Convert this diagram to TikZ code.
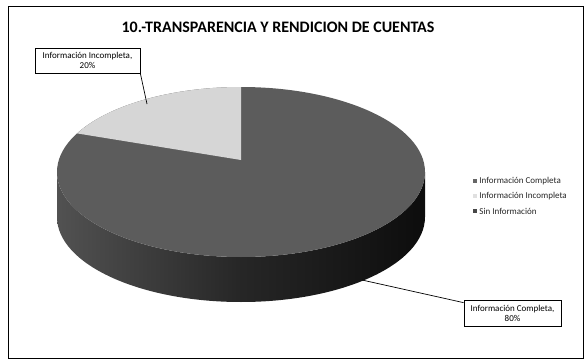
\documentclass[tikz,border=0pt]{standalone}
\usepackage{fontspec}
\setmainfont{Carlito}
\usepackage{xcolor}
\usepackage{tikz}
\usetikzlibrary{arrows,arrows.meta,calc,positioning}

\begin{document}
\begin{tikzpicture}
    [   x = 1pt
    ,   y = 1pt
    ,   datalabel/.style=
        {   draw
        ,   fill = white
        ,   line width = 0.7pt
        ,   align = center
        ,   inner sep = 1pt
        ,   font = \fontsize{9}{10}\selectfont
        }
    ,   legendkey/.style=
        {   minimum size = 4pt
        ,   inner sep = 0pt
        }
    ,   legendtext/.style=
        {   anchor = west
        ,   inner sep = 1pt
        ,   text = black!85
        ,   font = \fontsize{9}{10}\selectfont
        }
    ,   leader/.style = {line width = 0.7pt}
    ]
    \useasboundingbox (0,0) rectangle (587,360);
    \draw[line width=0.8pt] (8,2) rectangle (583,354);
    \node[font=\fontsize{16}{18}\selectfont\bfseries] (title) at (278,333)
        {10.-TRANSPARENCIA Y RENDICION DE CUENTAS};
    % side of the pie
    \shade[left color=black!68, right color=black!95, middle color=black!85]
        (57,188) arc[start angle=180, end angle=360, x radius=184, y radius=85]
        -- (425,143) arc[start angle=0, end angle=-180, x radius=184, y radius=85]
        -- cycle;
    % top face
    \fill[black!64] (241,188) ellipse[x radius=184, y radius=85];
    \fill[black!16] (241,200) -- (241,273)
        arc[start angle=90, end angle=153, x radius=184, y radius=85] -- cycle;
    \coordinate (pinc) at (147,256);
    \coordinate (pcom) at (362,80);
    % data labels
    \node[datalabel, minimum width=105pt, minimum height=25pt] (lblinc) at (87.5,299.5)
        {Información Incompleta,\\20\%};
    \node[datalabel, minimum width=97pt, minimum height=26pt] (lblcom) at (512.5,47)
        {Información Completa,\\80\%};
    \draw[leader] (lblinc.south east) -- (pinc);
    \draw[leader] (pcom) -- ([yshift=-3pt]lblcom.north west);
    % legend
    \node[legendkey, fill=black!60] (k1) at (475,179) {};
    \node[legendkey, fill=black!12] (k2) at (475,164) {};
    \node[legendkey, fill=black!72] (k3) at (475,149) {};
    \node[legendtext, right=1pt of k1] (t1) {Información Completa};
    \node[legendtext, right=1pt of k2] (t2) {Información Incompleta};
    \node[legendtext, right=1pt of k3] (t3) {Sin Información};
\end{tikzpicture}
\end{document}
